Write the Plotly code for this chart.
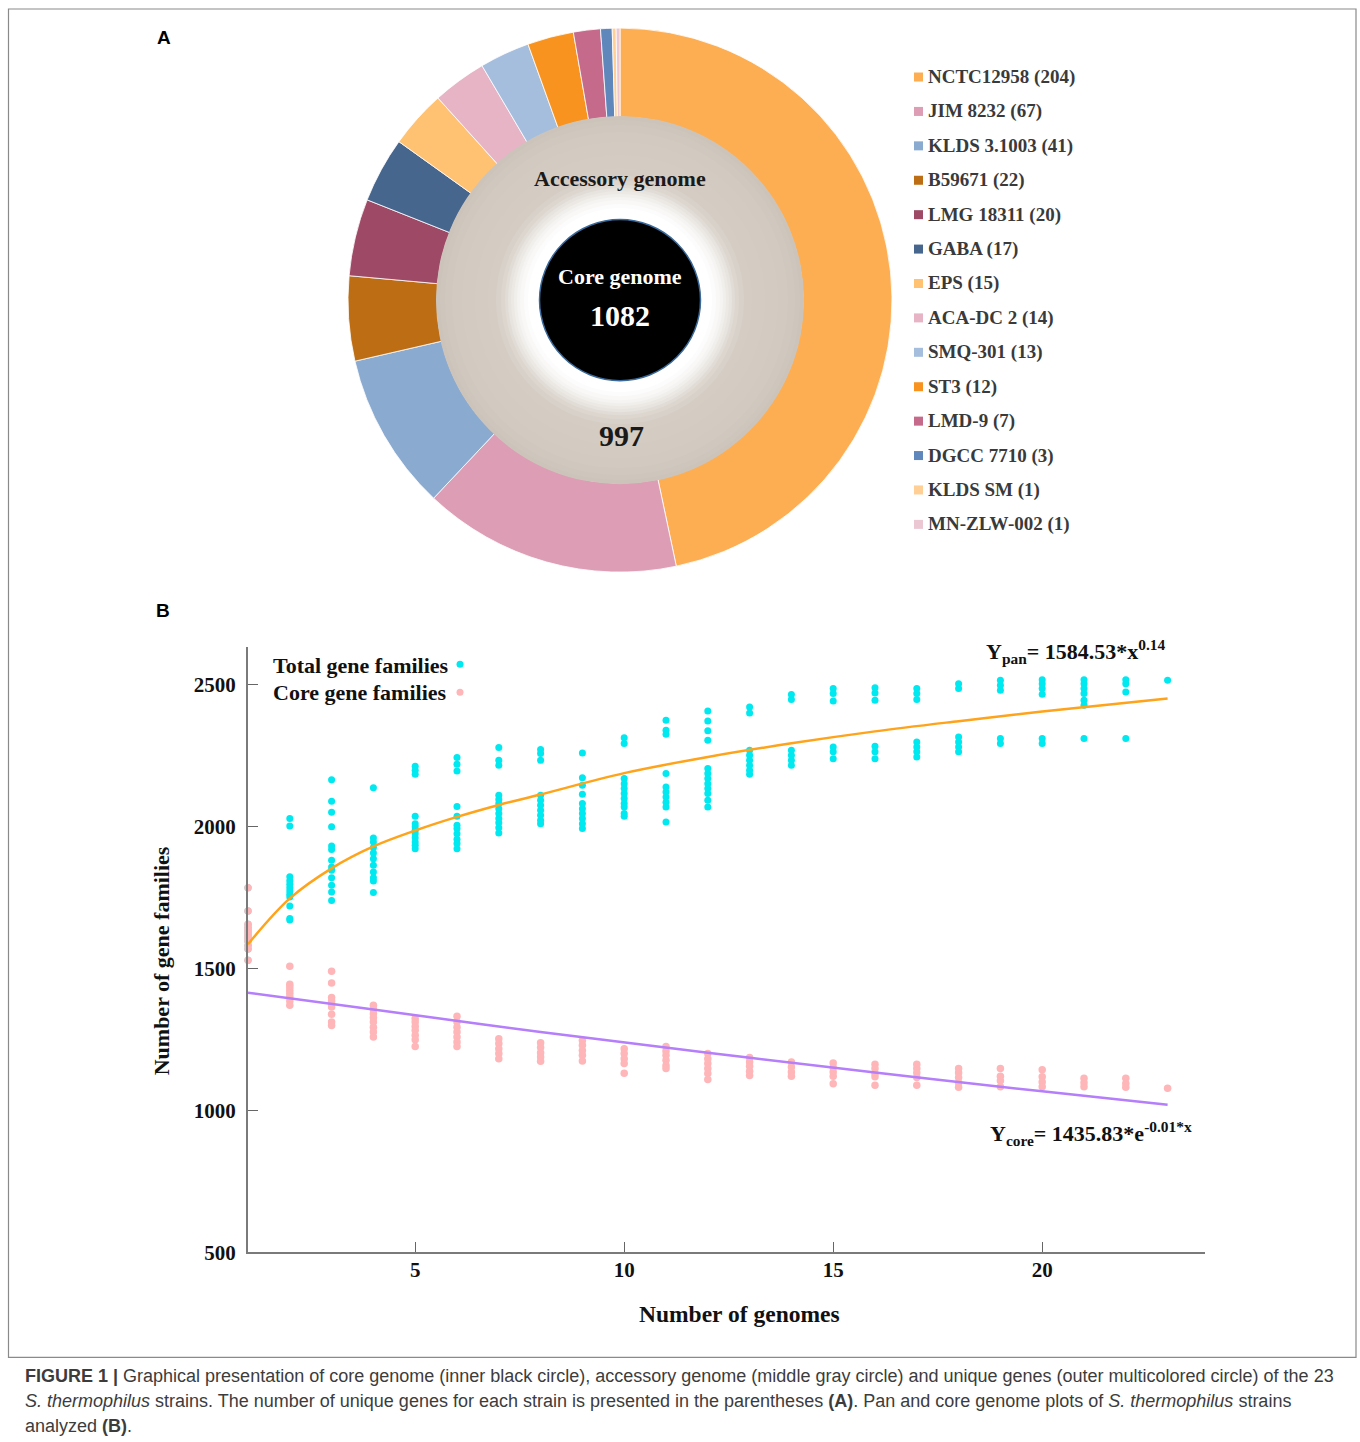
import plotly.graph_objects as go

# ---------------- data ----------------
STRAINS = ["NCTC12958", "JIM 8232", "KLDS 3.1003", "B59671", "LMG 18311", "GABA", "EPS",
           "ACA-DC 2", "SMQ-301", "ST3", "LMD-9", "DGCC 7710", "KLDS SM", "MN-ZLW-002"]
UNIQUE_GENES = [204, 67, 41, 22, 20, 17, 15, 14, 13, 12, 7, 3, 1, 1]
STRAIN_COLORS = ["#FDAE52", "#DD9DB4", "#8BAAD0", "#BD6E14", "#9E4966", "#47668E", "#FFC273",
                 "#E6B4C5", "#A6BEDD", "#F7931E", "#C56A8A", "#5F87BB", "#FFCF95", "#EBC6D3"]
CORE_GENOME = 1082
ACCESSORY_GENOME = 997

GENOMES = list(range(1, 24))
PAN_VALUES = [
    [1784, 1702, 1655, 1645, 1635, 1625, 1615, 1605, 1595, 1580, 1568, 1528],
    [2027, 2001, 1822, 1808, 1796, 1784, 1772, 1761, 1751, 1719, 1675, 1670],
    [2164, 2088, 2049, 1998, 1931, 1918, 1880, 1857, 1845, 1819, 1792, 1769, 1739],
    [2136, 1959, 1945, 1925, 1906, 1886, 1863, 1839, 1819, 1807, 1767],
    [2211, 2197, 2183, 2035, 2009, 1998, 1986, 1974, 1960, 1945, 1933, 1921],
    [2242, 2218, 2195, 2070, 2035, 2004, 1992, 1974, 1954, 1939, 1921],
    [2277, 2232, 2215, 2109, 2094, 2080, 2062, 2045, 2027, 2012, 1995, 1976],
    [2270, 2256, 2232, 2109, 2092, 2074, 2056, 2039, 2021, 2009],
    [2258, 2171, 2144, 2113, 2080, 2062, 2045, 2027, 2009, 1992],
    [2312, 2291, 2168, 2150, 2133, 2115, 2098, 2080, 2068, 2045, 2035],
    [2373, 2338, 2324, 2186, 2138, 2121, 2103, 2085, 2068, 2015],
    [2406, 2371, 2336, 2303, 2203, 2186, 2168, 2150, 2133, 2115, 2092, 2068],
    [2420, 2399, 2268, 2250, 2232, 2215, 2197, 2183],
    [2464, 2446, 2268, 2250, 2232, 2215],
    [2485, 2467, 2441, 2279, 2262, 2238],
    [2488, 2469, 2444, 2282, 2262, 2238],
    [2485, 2467, 2446, 2297, 2279, 2262, 2244],
    [2502, 2485, 2314, 2297, 2279, 2262],
    [2514, 2496, 2479, 2309, 2291],
    [2516, 2502, 2485, 2465, 2309, 2291],
    [2516, 2502, 2485, 2467, 2444, 2426, 2309],
    [2516, 2502, 2473, 2309],
    [2514],
]
CORE_VALUES = [
    [1784, 1702, 1655, 1645, 1635, 1625, 1615, 1605, 1595, 1580, 1568, 1528],
    [1507, 1444, 1434, 1423, 1411, 1399, 1385, 1370],
    [1490, 1448, 1397, 1385, 1373, 1364, 1338, 1311, 1299],
    [1370, 1355, 1340, 1326, 1311, 1293, 1276, 1258],
    [1323, 1311, 1296, 1282, 1264, 1249, 1225],
    [1331, 1311, 1293, 1276, 1258, 1241, 1225],
    [1252, 1235, 1217, 1200, 1182],
    [1238, 1221, 1203, 1188, 1173],
    [1246, 1229, 1211, 1194, 1174],
    [1217, 1200, 1182, 1165, 1131],
    [1225, 1209, 1194, 1176, 1158, 1147],
    [1200, 1182, 1165, 1147, 1130, 1109],
    [1186, 1170, 1155, 1138, 1123],
    [1170, 1153, 1135, 1120],
    [1167, 1151, 1135, 1120, 1094],
    [1162, 1147, 1130, 1118, 1088],
    [1162, 1147, 1132, 1116, 1088],
    [1147, 1132, 1116, 1097, 1081],
    [1147, 1120, 1104, 1083],
    [1143, 1118, 1100, 1083],
    [1113, 1097, 1083],
    [1113, 1095, 1081],
    [1078],
]
# fitted curves
PAN_FIT_X = [1, 2, 3, 4, 5, 6, 7, 8, 10, 12, 14, 16, 18, 20, 23]
PAN_FIT_Y = [1585, 1746, 1852, 1929, 1985, 2033, 2075, 2112, 2187, 2244, 2292, 2334, 2370, 2404, 2450]
CORE_FIT_X = [1, 4, 8, 12, 16, 20, 23]
CORE_FIT_Y = [1414, 1355, 1276, 1203, 1133, 1067, 1020]

X_TICKS = [5, 10, 15, 20]
Y_TICKS = [500, 1000, 1500, 2000, 2500]

# ---------------- geometry helpers (reference pixels -> paper) ----------------
W, H = 1360, 1452
S = 1454.5 / 1442          # vertical factor of the photographed page
def px(X):
    return X / W
def py(Y):
    return 1 - Y * S / H

SERIF = "Liberation Serif"
SANS = "Liberation Sans"

fig = go.Figure()

# ---------------- panel A: donut ----------------
CX, CY, R_OUT = 620, 300, 272
fig.add_trace(go.Pie(
    values=UNIQUE_GENES, labels=STRAINS, sort=False, direction="clockwise", rotation=0,
    hole=183 / 272, textinfo="none", showlegend=False,
    marker=dict(colors=STRAIN_COLORS, line=dict(color="#ffffff", width=0.8)),
    domain=dict(x=[px(CX - R_OUT), px(CX + R_OUT)], y=[py(CY + R_OUT), py(CY - R_OUT)]),
))

shapes = []
def circle(r, fill, line_color=None, line_width=0):
    shapes.append(dict(type="circle", xref="paper", yref="paper",
                       x0=px(CX - r), x1=px(CX + r), y0=py(CY + r), y1=py(CY - r),
                       fillcolor=fill, line=dict(color=line_color or fill, width=line_width),
                       layer="above"))

RING = [(184, "#ccc4ba"), (180, "#cec6bc"), (175, "#d0c8be"), (168, "#d2cac0"), (158, "#d3cbc1"),
        (145, "#d4ccc3"), (132, "#d5cdc4"), (124, "#d8d1c9"), (119, "#dcd6cf"), (115, "#e1dcd6"),
        (112, "#e7e3de"), (109, "#ece9e5"), (106, "#f1efec"), (103, "#f5f4f2"), (100, "#f9f8f7"),
        (96, "#fcfcfc"), (92, "#ffffff")]
for r, c in RING:
    circle(r, c)
circle(80.5, "#000000", "#3a6a9c", 1.5)

# frame
shapes.append(dict(type="rect", xref="paper", yref="paper", x0=px(8.5), x1=px(1356), y0=py(1357), y1=py(9),
                   line=dict(color="#8a8a8a", width=1.2), fillcolor="rgba(0,0,0,0)", layer="above"))

annotations = []
def text(x, y, t, size, color="#000", family=SERIF, xanchor="center", bold=True):
    annotations.append(dict(x=px(x), y=py(y), xref="paper", yref="paper", text=t, showarrow=False,
                            xanchor=xanchor, yanchor="middle",
                            font=dict(size=size, color=color, family=family,
                                      weight="bold" if bold else "normal")))

text(620, 178, "Accessory genome", 22, "#1a1a1a")
text(621, 435, str(ACCESSORY_GENOME), 30, "#1a1a1a")
text(620, 276, "Core genome", 22, "#ffffff")
text(620, 315, str(CORE_GENOME), 30, "#ffffff")

# legend of panel A
ROW0, ROWSTEP = 77, 34.4
for i, (name, n, col) in enumerate(zip(STRAINS, UNIQUE_GENES, STRAIN_COLORS)):
    yy = ROW0 + i * ROWSTEP
    shapes.append(dict(type="rect", xref="paper", yref="paper", x0=px(914), x1=px(923),
                       y0=py(yy + 4.5), y1=py(yy - 4.5), fillcolor=col, line=dict(width=0)))
    text(926, yy, f"{name} ({n})", 19, "#3a3a3a", xanchor="left")

text(164, 37, "A", 19, "#000", family=SANS)
text(163, 610, "B", 19, "#000", family=SANS)

# ---------------- panel B: pan / core scatter ----------------
pan_x = [g for g, vals in zip(GENOMES, PAN_VALUES) for _ in vals]
pan_y = [v for vals in PAN_VALUES for v in vals]
core_x = [g for g, vals in zip(GENOMES, CORE_VALUES) for _ in vals]
core_y = [v for vals in CORE_VALUES for v in vals]

fig.add_trace(go.Scatter(x=pan_x, y=pan_y, mode="markers", name="Total gene families",
                         marker=dict(color="#00E8F0", size=7), cliponaxis=False,
                         xaxis="x", yaxis="y"))
fig.add_trace(go.Scatter(x=core_x, y=core_y, mode="markers", name="Core gene families",
                         marker=dict(color="#FFB6B8", size=7.5), cliponaxis=False,
                         xaxis="x", yaxis="y"))
fig.add_trace(go.Scatter(x=PAN_FIT_X, y=PAN_FIT_Y, mode="lines", line=dict(color="#FFA31A", width=2.5, shape="spline"),
                         name="pan fit", xaxis="x", yaxis="y"))
fig.add_trace(go.Scatter(x=CORE_FIT_X, y=CORE_FIT_Y, mode="lines", line=dict(color="#B57EFA", width=2.5, shape="spline"),
                         name="core fit", xaxis="x", yaxis="y"))

X_LEFT, X_RIGHT, Y_TOP, Y_BOT = 248, 1205, 647, 1252
PX_PER_GENOME = 41.8
PX_PER_GENE = 568 / 2000

axis_font = dict(family=SERIF, size=21, color="#111", weight="bold")
fig.update_layout(
    width=W, height=H, margin=dict(l=0, r=0, t=0, b=0),
    paper_bgcolor="white", plot_bgcolor="white", showlegend=False,
    xaxis=dict(domain=[px(X_LEFT), px(X_RIGHT)],
               range=[1, 1 + (X_RIGHT - X_LEFT) / PX_PER_GENOME],
               tickvals=X_TICKS, ticks="inside", ticklen=10, tickwidth=1.2, tickcolor="#666",
               showline=True, linecolor="#7a7a7a", linewidth=2, showgrid=False, zeroline=False,
               tickfont=axis_font, ticklabelstandoff=-3),
    yaxis=dict(domain=[py(Y_BOT), py(Y_TOP)],
               range=[500, 500 + (Y_BOT - Y_TOP) / PX_PER_GENE],
               tickvals=Y_TICKS, ticks="inside", ticklen=10, tickwidth=1.2, tickcolor="#666",
               showline=True, linecolor="#7a7a7a", linewidth=2, showgrid=False, zeroline=False,
               tickfont=axis_font, ticklabelstandoff=6),
)

# axis titles
annotations.append(dict(x=px(161), y=py(961), xref="paper", yref="paper", text="Number of gene families",
                        textangle=-90, showarrow=False, xanchor="center", yanchor="middle",
                        font=dict(family=SERIF, size=22, color="#111", weight="bold")))
text(740, 1314, "Number of genomes", 23.5, "#111")

# scatter legend (text followed by dot)
text(271, 665, "Total gene families", 22, "#111", xanchor="left")
text(271, 692, "Core gene families", 22, "#111", xanchor="left")
for yy, col in [(664, "#00E8F0"), (692, "#FFB6B8")]:
    shapes.append(dict(type="circle", xref="paper", yref="paper", x0=px(456.5), x1=px(463.5),
                       y0=py(yy + 3.5), y1=py(yy - 3.5), fillcolor=col, line=dict(width=0)))

# equations
text(1076, 651, "Y<sub>pan</sub>= 1584.53*x<sup>0.14</sup>", 22, "#111")
text(1091, 1133, "Y<sub>core</sub>= 1435.83*e<sup>-0.01*x</sup>", 22, "#111")

# caption
CAP = dict(family=SANS, size=18, color="#3c3c3c")
for yy, t in [
    (1376, "<b>FIGURE 1 |</b> Graphical presentation of core genome (inner black circle), accessory genome (middle gray circle) and unique genes (outer multicolored circle) of the 23"),
    (1401, "<i>S. thermophilus</i> strains. The number of unique genes for each strain is presented in the parentheses <b>(A)</b>. Pan and core genome plots of <i>S. thermophilus</i> strains"),
    (1426, "analyzed <b>(B)</b>."),
]:
    annotations.append(dict(x=px(23), y=py(yy), xref="paper", yref="paper", text=t, showarrow=False,
                            xanchor="left", yanchor="middle", font=CAP))

fig.update_layout(shapes=shapes, annotations=annotations)
fig.write_html("out.html", config={"displayModeBar": False},
               post_script="document.body.style.margin='0px';")
